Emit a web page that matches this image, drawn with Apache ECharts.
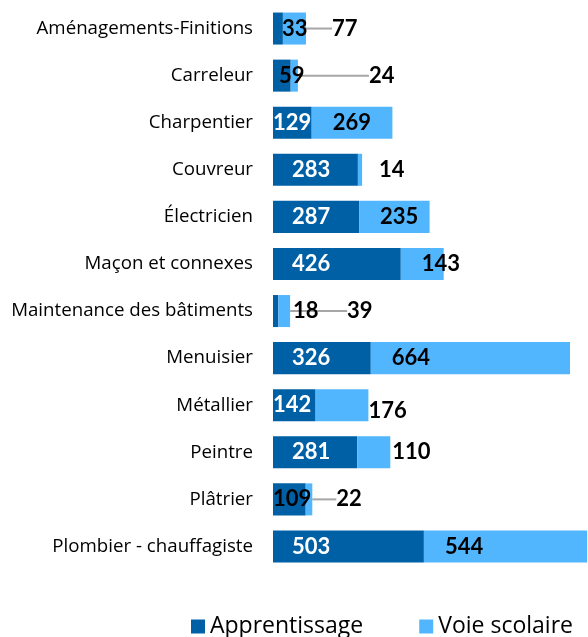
<!DOCTYPE html>
<html lang="fr">
<head>
    <meta charset="utf-8">
    <title>Apprentissage / Voie scolaire</title>
    <script src="https://cdn.jsdelivr.net/npm/echarts@6/dist/echarts.min.js"></script>
</head>
<body style="margin:0;background:#fff;">

<div id="main" style="width:588px;height:637px;"></div>

<script type="text/javascript">

    var metiers = ['Aménagements-Finitions', 'Carreleur', 'Charpentier', 'Couvreur', 'Électricien',
        'Maçon et connexes', 'Maintenance des bâtiments', 'Menuisier', 'Métallier', 'Peintre',
        'Plâtrier', 'Plombier - chauffagiste'];
    var apprentissage = [33, 59, 129, 283, 287, 426, 18, 326, 142, 281, 109, 503];
    var voieScolaire = [77, 24, 269, 14, 235, 143, 39, 664, 176, 110, 22, 544];

    var sombre = '#0060A6';
    var clair = '#52B6FF';

    // reglages des etiquettes (comme dans le graphique d'origine)
    // apprentissage : decalage depuis le debut de la barre, couleur noire si barre trop courte
    var decalA = {0: 9, 1: 6, 2: 0, 6: 20, 8: 0, 10: 0};
    var noirA = {0: 1, 1: 1, 6: 1, 10: 1};
    // voie scolaire : etiquettes a l'exterieur (ecart depuis la fin de la barre)
    var exterieur = {0: 26, 1: 71, 3: 17, 6: 57, 8: 0, 9: 2, 10: 24};
    var avecTrait = {0: 1, 1: 1, 6: 1, 10: 1};
    var baisse = {8: 6};

    var dataA = apprentissage.map(function (v, i) {
        return {
            value: v,
            label: {
                distance: decalA[i] !== undefined ? decalA[i] : 19,
                color: noirA[i] ? '#000' : '#fff'
            }
        };
    });

    var dataV = voieScolaire.map(function (v, i) {
        var item = {value: v};
        if (exterieur[i] !== undefined) {
            item.label = {position: 'right', distance: avecTrait[i] ? 0 : exterieur[i]};
            if (avecTrait[i]) {
                item.labelLine = {show: true};
            }
        }
        return item;
    });

    var myChart = echarts.init(document.getElementById('main'));

    var option = {
        backgroundColor: '#fff',
        animation: false,
        grid: {left: 273, right: 0, top: 5, bottom: 67},
        legend: {
            left: 186,
            top: 610,
            itemWidth: 14,
            itemHeight: 14,
            itemGap: 56,
            icon: 'rect',
            textStyle: {fontFamily: 'Open Sans', fontSize: 23, color: '#000'},
            data: ['Apprentissage', 'Voie scolaire']
        },
        xAxis: {
            type: 'value',
            min: 0,
            max: 1050,
            show: false,
            splitLine: {show: false}
        },
        yAxis: {
            type: 'category',
            inverse: true,
            data: metiers,
            axisLine: {show: false},
            axisTick: {show: false},
            axisLabel: {fontFamily: 'Open Sans', fontSize: 18.7, color: '#000', margin: 20}
        },
        series: [{
            name: 'Apprentissage',
            type: 'bar',
            stack: 'total',
            barCategoryGap: '32%',
            itemStyle: {color: sombre},
            label: {
                show: true,
                position: 'insideLeft',
                fontFamily: 'Lato',
                fontWeight: 'bold',
                fontSize: 22
            },
            data: dataA
        }, {
            name: 'Voie scolaire',
            type: 'bar',
            stack: 'total',
            itemStyle: {color: clair},
            label: {
                show: true,
                position: 'insideLeft',
                distance: 21,
                color: '#000',
                fontFamily: 'Lato',
                fontWeight: 'bold',
                fontSize: 22
            },
            labelLine: {show: false, lineStyle: {color: '#a6a6a6', width: 2}},
            labelLayout: function (params) {
                var i = params.dataIndex;
                if (avecTrait[i]) {
                    return {dx: exterieur[i]};
                }
                if (baisse[i]) {
                    return {dy: baisse[i]};
                }
                return {};
            },
            data: dataV
        }]
    };

    myChart.setOption(option);

</script>

</body>
</html>
